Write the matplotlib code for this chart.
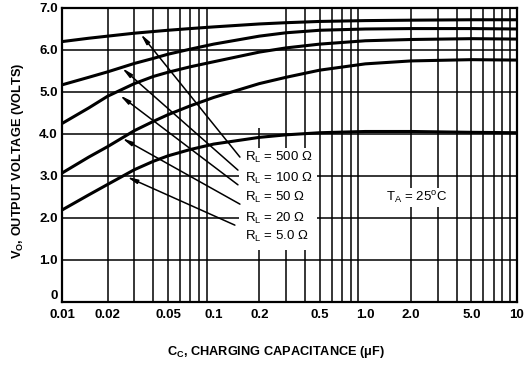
import matplotlib
matplotlib.use("Agg")
import matplotlib.pyplot as plt
from matplotlib.patches import Rectangle

plt.rcParams['font.family'] = ['Liberation Sans Narrow', 'Liberation Sans', 'DejaVu Sans']
plt.rcParams['mathtext.fontset'] = 'custom'
plt.rcParams['mathtext.rm'] = 'Liberation Sans'

# charging capacitance (uF) and output voltage for each load
cap = [0.01, 0.015, 0.02, 0.03, 0.04, 0.05, 0.07, 0.1, 0.2, 0.3, 0.5, 1.0, 2.0, 5.0, 10.0]
v_500 = [6.20, 6.28, 6.33, 6.40, 6.44, 6.47, 6.51, 6.55, 6.62, 6.65, 6.68, 6.70, 6.71, 6.72, 6.72]
v_100 = [5.17, 5.35, 5.48, 5.68, 5.80, 5.90, 6.02, 6.14, 6.33, 6.41, 6.47, 6.50, 6.51, 6.51, 6.50]
v_50 = [4.25, 4.62, 4.90, 5.20, 5.37, 5.47, 5.60, 5.72, 5.95, 6.05, 6.14, 6.22, 6.25, 6.27, 6.26]
v_20 = [3.07, 3.45, 3.70, 4.08, 4.30, 4.46, 4.67, 4.87, 5.20, 5.35, 5.52, 5.67, 5.74, 5.77, 5.76]
v_5 = [2.19, 2.55, 2.80, 3.15, 3.35, 3.48, 3.63, 3.76, 3.92, 3.98, 4.03, 4.06, 4.06, 4.04, 4.03]

curve_labels = ['500 \u03a9', '100 \u03a9', '50 \u03a9', '20 \u03a9', '5.0 \u03a9']
# arrow tips (on the curves) and tails (near the labels)
head_c = [0.033, 0.0249, 0.0241, 0.0249, 0.0268]
head_v = [6.38, 5.57, 4.92, 3.90, 2.98]
tail_c = [0.149, 0.1446, 0.1446, 0.149, 0.138]
tail_v = [3.45, 3.14, 2.79, 2.33, 1.83]
label_v = [3.43, 2.95, 2.48, 2.00, 1.55]

xtick_vals = [0.01, 0.02, 0.05, 0.1, 0.2, 0.5, 1.0, 2.0, 5.0, 10]
xtick_text = ['0.01', '0.02', '0.05', '0.1', '0.2', '0.5', '1.0', '2.0', '5.0', '10']
ytick_vals = [0, 1, 2, 3, 4, 5, 6, 7]
ytick_text = ['0', '1.0', '2.0', '3.0', '4.0', '5.0', '6.0', '7.0']

fig = plt.figure(figsize=(5.29, 3.66), dpi=100)
ax = fig.add_axes([62/529, 1-302/366, 455/529, 294/366])
ax.set_xscale('log')
ax.set_xlim(0.01, 10)
ax.set_ylim(0, 7)

# grid lines (the 0.2 line stops short in the original)
grid_x = [m * d for d in (0.01, 0.1, 1.0) for m in range(2, 10)]
for gx in grid_x:
    if abs(gx - 0.2) < 1e-9:
        ax.vlines(gx, 0, 4.14, color='k', lw=1.1, zorder=1)
    else:
        ax.vlines(gx, 0, 7, color='k', lw=1.1, zorder=1)
ax.hlines(ytick_vals[1:-1], 0.01, 10, color='k', lw=1.1, zorder=1)

# white area behind the load labels
ax.add_patch(Rectangle((0.1468, 1.24), 0.48 - 0.1468, 3.67 - 1.24,
                       facecolor='white', edgecolor='none', zorder=2))

for v in (v_500, v_100, v_50, v_20, v_5):
    ax.plot(cap, v, color='k', lw=2.2, zorder=3, solid_capstyle='butt')

for i in range(5):
    ax.annotate('', xy=(head_c[i], head_v[i]), xytext=(tail_c[i], tail_v[i]),
                arrowprops=dict(arrowstyle='-|>,head_length=0.6,head_width=0.12',
                                color='k', lw=1.1, shrinkA=0, shrinkB=0), zorder=4)
    ax.text(0.1608, label_v[i], r'$\mathregular{R_L}$ = ' + curve_labels[i],
            fontsize=9.5, va='center', ha='left', zorder=5)

ax.text(2.19, 2.48, r'$\mathregular{T_A}$ = 25$\mathregular{^o}$C', fontsize=9.5,
        ha='center', va='center', zorder=5,
        bbox=dict(facecolor='white', edgecolor='none', pad=1))

ax.set_xticks(xtick_vals)
ax.set_xticklabels(xtick_text)
ax.xaxis.set_minor_locator(matplotlib.ticker.NullLocator())
ax.set_yticks(ytick_vals)
ax.set_yticklabels(ytick_text)
ax.tick_params(length=0, labelsize=9.5)
ax.tick_params(axis='x', pad=5)
ax.tick_params(axis='y', pad=3)
for lab in ax.get_xticklabels() + ax.get_yticklabels():
    lab.set_fontweight('bold')
ax.get_yticklabels()[0].set_va('bottom')
for sp in ax.spines.values():
    sp.set_linewidth(1.6)

fig.text(18/529, 1-161/366, r'$\mathregular{V_O}$, OUTPUT VOLTAGE (VOLTS)', rotation=90,
         ha='center', va='center', fontsize=9.2, fontweight='bold')
fig.text(276/529, 1-352/366, r'$\mathregular{C_C}$, CHARGING CAPACITANCE ($\mathregular{\mu}$F)',
         ha='center', va='center', fontsize=9.2, fontweight='bold')

fig.savefig('out.png', dpi=100)
